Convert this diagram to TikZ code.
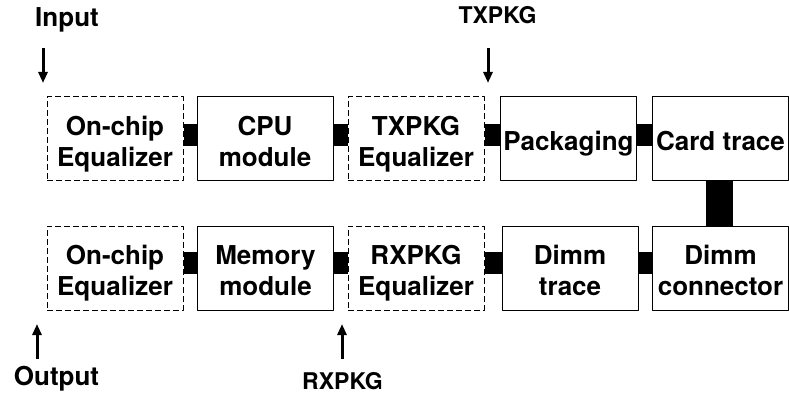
\documentclass[tikz,border=0pt]{standalone}
\usepackage{fontspec}
\setmainfont{TeX Gyre Heros}
\usetikzlibrary{arrows.meta}
\newcommand{\topstr}{\rule{0pt}{30pt}}
\newcommand{\botstr}{\rule[-6pt]{0pt}{6pt}}
\begin{document}
\begin{tikzpicture}[x=1pt, y=1pt, font=\bfseries\fontsize{26}{31}\selectfont, line join=round, >={Triangle[length=11pt,width=9pt]},
	blk/.style={draw, line width=1pt, minimum width=136pt, minimum height=84pt, inner sep=0pt, align=center},
	eqz/.style={blk, dash pattern=on 6pt off 3pt},
	link/.style={line width=22pt},
	sig/.style={->, line width=3pt},
	tag/.style={anchor=base, inner sep=0pt},
	pkgtag/.style={tag, font=\bfseries\fontsize{23}{27}\selectfont}]
	\useasboundingbox (0,0) rectangle (789,394);
	% upper row
	\node[eqz] (eqa) at (115,255) {\topstr On-chip\\Equalizer\botstr};
	\node[blk] (cpu) at (265,255) {\topstr CPU\\module\botstr};
	\node[eqz] (txeq) at (416,255) {\topstr TXPKG\\Equalizer\botstr};
	\node[blk] (pkg) at (568.5,255) {\topstr Packaging\botstr};
	\node[blk] (card) at (720.5,255) {\topstr Card trace\botstr};
	% lower row
	\node[eqz] (eqb) at (115,126) {\topstr On-chip\\Equalizer\botstr};
	\node[blk] (mem) at (265.5,126) {\topstr Memory\\module\botstr};
	\node[eqz] (rxeq) at (416,126) {\topstr RXPKG\\Equalizer\botstr};
	\node[blk] (dtr) at (570,126) {\topstr Dimm\\trace\botstr};
	\node[blk] (dcon) at (720.5,126) {\topstr Dimm\\connector\botstr};
	% links
	\draw[link] ([yshift=4pt]eqa.east) -- ([yshift=4pt]cpu.west);
	\draw[link] ([yshift=4pt]cpu.east) -- ([yshift=4pt]txeq.west);
	\draw[link] ([yshift=4pt]txeq.east) -- ([yshift=4pt]pkg.west);
	\draw[link] ([yshift=4pt]pkg.east) -- ([yshift=4pt]card.west);
	\draw[line width=27pt] ([xshift=-1pt]card.south) -- ([xshift=-1pt]dcon.north);
	\draw[link] ([yshift=5pt]dcon.west) -- ([yshift=5pt]dtr.east);
	\draw[link] ([yshift=5pt]dtr.west) -- ([yshift=5pt]rxeq.east);
	\draw[link] ([yshift=5pt]rxeq.west) -- ([yshift=5pt]mem.east);
	\draw[link] ([yshift=5pt]mem.west) -- ([yshift=5pt]eqb.east);
	% ports
	\node[tag] (inlbl) at (67,367) {Input};
	\node[pkgtag] (txlbl) at (497.5,370) {TXPKG};
	\node[tag] (outlbl) at (56.5,9) {Output};
	\node[pkgtag] (rxlbl) at (342.5,5) {RXPKG};
	\coordinate (inS) at (43,346); \coordinate (inE) at (43,311);
	\coordinate (txS) at (488,346); \coordinate (txE) at (488,311);
	\coordinate (outS) at (37,35); \coordinate (outE) at (37,70);
	\coordinate (rxS) at (342,35); \coordinate (rxE) at (342,70);
	\draw[sig] (inS) -- (inE);
	\draw[sig] (txS) -- (txE);
	\draw[sig] (outS) -- (outE);
	\draw[sig] (rxS) -- (rxE);
\end{tikzpicture}
\end{document}
